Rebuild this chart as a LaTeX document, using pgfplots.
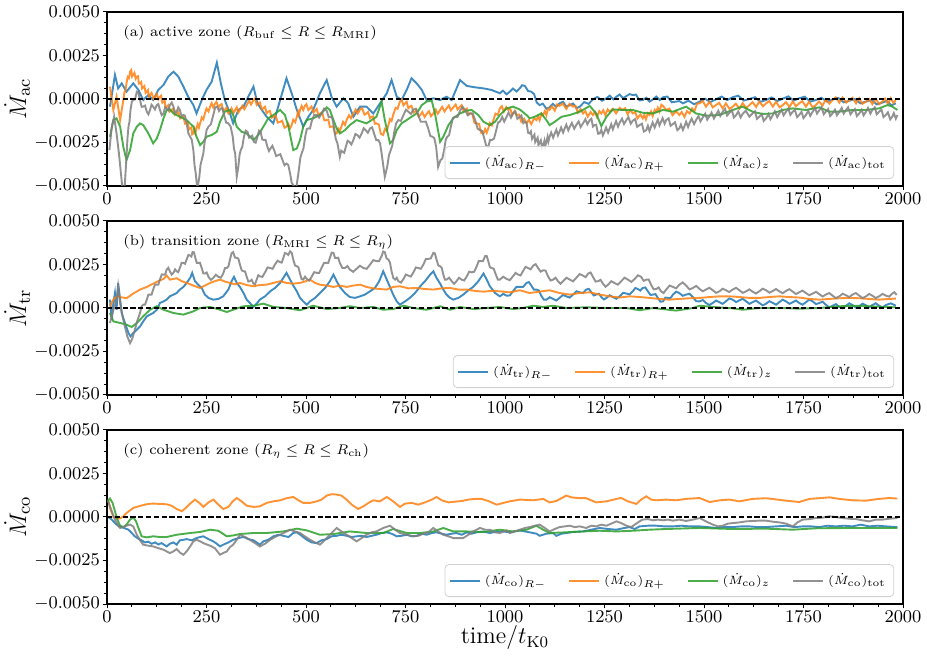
\documentclass[border=0pt]{standalone}
\usepackage{pgfplots}
\pgfplotsset{compat=1.18}
\definecolor{cA}{RGB}{31,119,180}
\definecolor{cB}{RGB}{255,127,14}
\definecolor{cC}{RGB}{44,160,44}
\definecolor{cD}{RGB}{127,127,127}
\pgfplotsset{panel/.style={
  width=398bp, height=87bp, scale only axis,
  xmin=0, xmax=2000, ymin=-0.005, ymax=0.005,
  xtick={0,250,500,750,1000,1250,1500,1750,2000},
  xticklabels={$0$,$250$,$500$,$750$,$1000$,$1250$,$1500$,$1750$,$2000$},
  ytick={-0.005,-0.0025,0,0.0025,0.005},
  yticklabels={$-0.0050$,$-0.0025$,$0.0000$,$0.0025$,$0.0050$},
  scaled y ticks=false, scaled x ticks=false,
  minor x tick num=3, minor y tick num=3,
  tick align=outside, tick pos=left,
  major tick length=2.2bp, minor tick length=1.3bp,
  every tick/.style={black, line width=0.5bp},
  tick label style={font=\fontsize{9.5}{11}\selectfont, inner sep=1.2bp},
  axis line style={line width=0.6bp},
  ylabel style={font=\fontsize{13}{15}\selectfont, at={(axis description cs:-0.113,0.5)}, anchor=center, rotate=0},
  xlabel style={font=\fontsize{12}{14}\selectfont, at={(axis description cs:0.5,-0.195)}, anchor=center},
  legend columns=4, legend cell align=left,
  legend image code/.code={\draw[##1] (0bp,0bp) -- (15bp,0bp);},
  legend style={at={(rel axis cs:0.989,0.04)}, anchor=south east,
    font=\fontsize{6}{7.5}\selectfont, draw=black!18, rounded corners=2bp,
    fill=white, fill opacity=0.8, text opacity=1, inner xsep=2bp, inner ysep=2.5bp,
    /tikz/every even column/.append style={column sep=9bp}},
  every axis plot/.append style={line width=0.95bp, draw opacity=0.85},
}}
\begin{document}
\begin{tikzpicture}
\path[use as bounding box] (-53.5bp,-27bp) rectangle (410bp,302bp);
% ---------------- panel (a)
\begin{axis}[panel, at={(0,209bp)}, ylabel={$\dot M_{\rm ac}$}]
\addplot[cA] coordinates {(7.5,-0.00044)(20,0.00138)(28,0.00061)(37,0.0009)(49,0.00042)(66,0.0009)(79,0.00052)(91,-0.00006)(104,0.00023)(116,-0.00006)(129,0.00052)(142,0.00081)(154,0.00129)(167,0.00157)(179,0.00129)(192,0.00071)(204,0.00013)(217,-0.00035)(225,-0.00083)(238,-0.00006)(250,0.00052)(263,0.001)(276,0.00209)(286,0.0009)(296,-0.00006)(309,-0.00083)(317,-0.0014)(330,-0.00063)(343,-0.00044)(355,0.00013)(368,0.00071)(378,-0.00025)(389,-0.00063)(401,-0.00102)(418,-0.0014)(435,-0.00006)(451,0.00119)(464,0.00033)(477,-0.00063)(493,-0.00159)(506,-0.00102)(518,-0.00063)(535,0.00033)(552,0.00109)(564,0.00013)(577,-0.00044)(594,0.00004)(606,-0.00025)(619,-0.00102)(636,-0.00044)(652,-0.00044)(669,-0.00083)(686,-0.00025)(703,0.00033)(715,0.00109)(728,0.00013)(740,-0.00006)(753,0.00052)(765,0.00119)(778,0.0009)(791,0.00052)(803,-0.00006)(820,0.00004)(837,-0.00006)(853,0.00013)(866,-0.00006)(887,0.00109)(904,0.00075)(925,0.00067)(946,0.00061)(966,0.00052)(987,0.00033)(995,0.00048)(1004,0.00027)(1012,0.00042)(1020,0.0006)(1029,0.00043)(1037,0.00061)(1043,0.00079)(1050,0.00075)(1058,0.00046)(1066,0.00042)(1073,0.00028)(1080,-0.00021)(1087,-0.00035)(1095,-0.00027)(1104,-0.00056)(1112,-0.00048)(1120,-0.00028)(1129,-0.00045)(1137,-0.00025)(1146,-0.00016)(1154,-0.00044)(1163,-0.00035)(1171,-0.00026)(1180,-0.00053)(1188,-0.00044)(1199,-0.00018)(1210,-0.00028)(1221,-0.00002)(1232,0.00012)(1244,-0.0001)(1255,0.00004)(1263,0.00019)(1272,-0.00002)(1280,0.00013)(1288,0.00026)(1297,0.00004)(1305,0.00017)(1313,0.00028)(1321,0.00023)(1329,0.00025)(1338,-0.00008)(1346,-0.00006)(1355,0.00007)(1363,-0.00015)(1372,-0.00002)(1380,0.00014)(1389,-0.00006)(1397,0.0001)(1408,0.00014)(1419,-0.00019)(1430,-0.00015)(1438,-0.00012)(1447,-0.00025)(1461,-0.0001)(1475,-0.0003)(1489,-0.00015)(1503,0.00001)(1516,-0.00018)(1530,-0.00002)(1544,0.00014)(1558,-0.00006)(1572,0.0001)(1586,0.00019)(1600,-0.00009)(1614,0)(1628,0.0001)(1642,-0.00016)(1656,-0.00006)(1670,0.00009)(1684,-0.00012)(1698,0.00002)(1712,0.00015)(1725,-0.00009)(1739,0.00004)(1753,0.00013)(1767,-0.00015)(1781,-0.00006)(1795,0.00007)(1809,-0.00015)(1823,-0.00002)(1837,0.00007)(1851,-0.00019)(1865,-0.0001)(1879,0)(1893,-0.00025)(1907,-0.00015)(1921,-0.00005)(1934,-0.00031)(1948,-0.00021)(1959,-0.00011)(1971,-0.00036)(1982,-0.00025)};
\addlegendentry{$(\dot M_{\rm ac})_{R-}$}
\addplot[cB] coordinates {(7.5,0.00071)(16,-0.00063)(24,0.00013)(33,-0.00121)(41,-0.00006)(44,0.00041)(46,0.00043)(49,0.0009)(52,0.00127)(55,0.0012)(58,0.00157)(61,0.00166)(63,0.00129)(66,0.00138)(69,0.0015)(72,0.00117)(75,0.00129)(78,0.00131)(80,0.00088)(83,0.0009)(86,0.00097)(88,0.0006)(91,0.00067)(94,0.00074)(97,0.00035)(100,0.00042)(103,0.00051)(105,0.00014)(108,0.00023)(112,0.00035)(117,0.00001)(121,0.00013)(125,0.00028)(129,-0.00002)(133,0.00013)(136,0.00019)(139,-0.00021)(142,-0.00015)(145,-0.0001)(147,-0.00049)(150,-0.00044)(154,-0.00035)(158,-0.00072)(162,-0.00063)(166,-0.00055)(171,-0.00091)(175,-0.00083)(179,-0.00074)(184,-0.00111)(188,-0.00102)(192,-0.001)(196,-0.00142)(200,-0.0014)(203,-0.00135)(206,-0.00174)(209,-0.00169)(212,-0.00164)(214,-0.00203)(217,-0.00198)(220,-0.00173)(222,-0.00194)(225,-0.00169)(228,-0.00144)(231,-0.00165)(234,-0.0014)(238,-0.00106)(242,-0.00117)(246,-0.00083)(250,-0.00055)(255,-0.00072)(259,-0.00044)(263,-0.00024)(267,-0.00049)(271,-0.00029)(275,-0.00016)(280,-0.00048)(284,-0.00035)(288,-0.00029)(292,-0.00069)(296,-0.00063)(300,-0.0005)(305,-0.00083)(309,-0.0007)(313,-0.00053)(318,-0.0008)(322,-0.00063)(326,-0.00048)(330,-0.00078)(334,-0.00063)(340,-0.00039)(345,-0.00059)(351,-0.00035)(357,-0.0001)(362,-0.00031)(368,-0.00006)(372,0.00003)(376,-0.00034)(380,-0.00025)(384,-0.0002)(389,-0.00059)(393,-0.00054)(397,-0.00045)(401,-0.00082)(405,-0.00073)(409,-0.00068)(414,-0.00107)(418,-0.00102)(424,-0.00097)(429,-0.00136)(435,-0.00131)(440,-0.00125)(446,-0.00165)(451,-0.00159)(455,-0.00141)(460,-0.00168)(464,-0.0015)(468,-0.00119)(473,-0.00133)(477,-0.00102)(480,-0.00074)(482,-0.00091)(485,-0.00063)(489,-0.0004)(493,-0.00063)(497,-0.0004)(501,-0.0003)(506,-0.00064)(510,-0.00054)(514,-0.00043)(519,-0.00078)(523,-0.00067)(527,-0.00057)(531,-0.00093)(535,-0.00083)(541,-0.00081)(546,-0.00123)(552,-0.00121)(556,-0.00119)(560,-0.00161)(564,-0.00159)(568,-0.00157)(573,-0.002)(577,-0.00198)(581,-0.0017)(585,-0.00187)(589,-0.00159)(593,-0.00131)(598,-0.00149)(602,-0.00121)(608,-0.00093)(613,-0.00111)(619,-0.00083)(625,-0.0006)(630,-0.00083)(636,-0.0006)(641,-0.00053)(647,-0.0009)(652,-0.00083)(656,-0.00074)(661,-0.00111)(665,-0.00102)(669,-0.001)(673,-0.00142)(677,-0.0014)(683,-0.00147)(688,-0.002)(694,-0.00207)(698,-0.00173)(703,-0.00184)(707,-0.0015)(711,-0.00116)(715,-0.00126)(719,-0.00092)(725,-0.00051)(730,-0.00056)(736,-0.00015)(740,-0.00003)(745,-0.00037)(749,-0.00025)(753,-0.00016)(757,-0.00053)(761,-0.00044)(765,-0.00039)(770,-0.00078)(774,-0.00073)(778,-0.00064)(783,-0.00101)(787,-0.00092)(792,-0.00075)(798,-0.00103)(803,-0.00086)(809,-0.0007)(814,-0.00099)(820,-0.00083)(826,-0.00061)(831,-0.00085)(837,-0.00063)(842,-0.00045)(848,-0.00072)(853,-0.00054)(859,-0.00037)(864,-0.00065)(870,-0.00048)(876,-0.00032)(881,-0.0006)(887,-0.00044)(891,-0.00035)(896,-0.00072)(900,-0.00063)(904,-0.00055)(908,-0.00091)(912,-0.00083)(918,-0.00087)(923,-0.00136)(929,-0.0014)(935,-0.00144)(940,-0.00194)(946,-0.00198)(950,-0.00173)(954,-0.00194)(958,-0.00169)(962,-0.00138)(967,-0.00152)(971,-0.00121)(976,-0.00084)(982,-0.00091)(987,-0.00054)(992,-0.00041)(997,-0.00073)(1003,-0.00046)(1008,-0.00063)(1013,-0.00055)(1018,-0.00093)(1024,-0.0007)(1029,-0.00092)(1035,-0.00089)(1041,-0.00131)(1048,-0.00113)(1054,-0.0014)(1060,-0.0012)(1066,-0.00145)(1073,-0.00111)(1079,-0.00121)(1083,-0.00099)(1087,-0.00122)(1092,-0.00084)(1096,-0.00092)(1100,-0.0007)(1104,-0.00093)(1108,-0.00055)(1112,-0.00063)(1118,-0.00042)(1125,-0.00067)(1131,-0.00031)(1137,-0.0004)(1145,-0.00026)(1154,-0.00057)(1162,-0.00028)(1171,-0.00044)(1177,-0.00039)(1183,-0.00079)(1190,-0.00058)(1196,-0.00083)(1202,-0.0007)(1208,-0.00102)(1215,-0.00075)(1221,-0.00092)(1226,-0.00075)(1231,-0.00103)(1237,-0.0007)(1242,-0.00083)(1247,-0.00065)(1252,-0.00093)(1258,-0.0006)(1263,-0.00073)(1271,-0.00056)(1279,-0.00083)(1288,-0.00051)(1296,-0.00063)(1302,-0.00053)(1308,-0.00088)(1315,-0.00063)(1321,-0.00083)(1327,-0.00075)(1333,-0.00112)(1340,-0.00089)(1346,-0.00111)(1350,-0.00091)(1354,-0.00117)(1359,-0.00082)(1363,-0.00092)(1367,-0.00072)(1371,-0.00098)(1376,-0.00063)(1380,-0.00073)(1384,-0.0005)(1388,-0.00072)(1393,-0.00033)(1397,-0.0004)(1401,-0.00052)(1405,-0.00063)(1413,-0.00055)(1421,-0.00093)(1430,-0.0007)(1438,-0.00092)(1444,-0.00075)(1451,-0.00103)(1457,-0.0007)(1464,-0.00083)(1470,-0.00054)(1476,-0.00069)(1483,-0.00025)(1489,-0.00025)(1497,-0.00012)(1505,-0.00044)(1514,-0.00016)(1522,-0.00048)(1530,-0.00035)(1538,-0.00022)(1547,-0.00054)(1555,-0.00025)(1564,-0.00057)(1572,-0.00044)(1580,-0.00027)(1589,-0.00055)(1597,-0.00024)(1606,-0.00052)(1614,-0.00035)(1622,-0.00018)(1631,-0.00046)(1639,-0.00014)(1648,-0.00042)(1656,-0.00025)(1664,-0.00012)(1673,-0.00044)(1681,-0.00016)(1690,-0.00048)(1698,-0.00035)(1706,-0.00018)(1715,-0.00046)(1723,-0.00014)(1731,-0.00042)(1739,-0.00025)(1747,-0.00012)(1756,-0.00044)(1764,-0.00016)(1773,-0.00048)(1781,-0.00035)(1789,-0.00014)(1798,-0.00038)(1806,-0.00002)(1815,-0.00027)(1823,-0.00006)(1831,0.00009)(1840,-0.00021)(1848,0.00009)(1857,-0.00021)(1865,-0.00006)(1873,0.00007)(1882,-0.00025)(1890,0.00004)(1898,-0.00028)(1907,-0.00015)(1915,0)(1923,-0.0003)(1932,0)(1940,-0.0003)(1948,-0.00015)(1955,0.00002)(1962,-0.00028)(1969,0.00005)(1976,-0.00023)(1982,-0.00006)};
\addlegendentry{$(\dot M_{\rm ac})_{R+}$}
\addplot[cC] coordinates {(7.5,-0.00217)(16,-0.00121)(24,-0.00111)(33,-0.00159)(41,-0.00275)(49,-0.00351)(58,-0.00294)(66,-0.00198)(75,-0.00159)(83,-0.0014)(91,-0.0015)(104,-0.00198)(116,-0.00255)(125,-0.00227)(133,-0.00179)(142,-0.00111)(150,-0.00063)(158,-0.0006)(167,-0.00083)(183,-0.00102)(200,-0.00121)(217,-0.00159)(225,-0.00217)(234,-0.00265)(242,-0.00246)(250,-0.00217)(263,-0.00207)(276,-0.00188)(284,-0.00131)(296,-0.00073)(309,-0.00063)(317,-0.00092)(326,-0.00159)(338,-0.00188)(351,-0.00198)(368,-0.00236)(380,-0.00207)(393,-0.00159)(405,-0.00111)(418,-0.00092)(435,-0.00063)(447,-0.00092)(456,-0.00159)(468,-0.00294)(477,-0.00284)(485,-0.00236)(493,-0.00159)(502,-0.00121)(518,-0.00111)(535,-0.00092)(552,-0.00048)(560,-0.00063)(569,-0.00121)(577,-0.00169)(585,-0.00198)(598,-0.00179)(610,-0.0015)(627,-0.00121)(640,-0.00131)(652,-0.0014)(665,-0.00121)(677,-0.00102)(690,-0.00015)(698,-0.00121)(711,-0.00255)(719,-0.00236)(728,-0.00179)(740,-0.0014)(753,-0.00121)(765,-0.00102)(778,-0.00083)(791,-0.00035)(803,-0.00015)(816,-0.0001)(824,-0.00083)(837,-0.00246)(845,-0.00217)(858,-0.0015)(870,-0.00111)(887,-0.00083)(904,-0.00067)(916,-0.00063)(933,-0.00092)(946,-0.00131)(962,-0.0015)(975,-0.00131)(987,-0.00092)(1004,-0.00054)(1020,-0.00044)(1037,-0.0006)(1054,-0.00092)(1062,-0.00111)(1075,-0.00102)(1091,-0.00083)(1104,-0.00121)(1112,-0.0015)(1125,-0.00131)(1142,-0.00102)(1163,-0.00092)(1188,-0.00073)(1213,-0.0004)(1229,-0.00083)(1242,-0.00156)(1255,-0.00102)(1271,-0.0006)(1296,-0.00063)(1321,-0.00063)(1346,-0.00079)(1372,-0.00083)(1397,-0.00063)(1422,-0.00073)(1455,-0.00044)(1480,-0.00083)(1505,-0.00096)(1539,-0.00092)(1572,-0.00063)(1597,-0.00044)(1622,-0.00073)(1647,-0.00086)(1673,-0.00083)(1698,-0.00063)(1723,-0.00054)(1756,-0.00063)(1790,-0.00048)(1815,-0.00073)(1840,-0.00073)(1873,-0.00063)(1907,-0.00063)(1940,-0.00054)(1961,-0.00035)(1973,-0.00044)(1986,-0.00063)};
\addlegendentry{$(\dot M_{\rm ac})_{z}$}
\addplot[cD] coordinates {(6,-0.00294)(12,-0.00159)(18,-0.00102)(24,-0.00198)(30,-0.00313)(35,-0.00428)(39,-0.0052)(44,-0.0052)(49,-0.00332)(51.5,-0.00225)(54,-0.00159)(56.5,-0.00131)(59,-0.00063)(62.5,-0.00015)(66,-0.00006)(70.5,-0.00002)(75,0.00042)(79,0.00038)(83,-0.00006)(87,-0.00045)(91,-0.00044)(95.5,-0.00038)(100,-0.00073)(104,-0.00088)(108,-0.00063)(112,-0.00033)(116,-0.00044)(120.5,-0.0006)(125,-0.00035)(129,-0.00029)(133,-0.00063)(137.5,-0.00093)(142,-0.00083)(146,-0.00048)(150,-0.00054)(154,-0.00065)(158,-0.00035)(162.5,-0.0002)(167,-0.00044)(171,-0.00078)(175,-0.00073)(179,-0.00048)(183,-0.00063)(187.5,-0.00098)(192,-0.00092)(196,-0.00096)(200,-0.0014)(204.5,-0.00198)(209,-0.00217)(213,-0.00235)(217,-0.00294)(220,-0.00381)(223,-0.00428)(227,-0.0052)(232,-0.00447)(235,-0.00379)(238,-0.00351)(242,-0.00313)(246,-0.00236)(250.5,-0.00177)(255,-0.00159)(261,-0.00145)(267,-0.00092)(272,-0.00048)(277,-0.00044)(281.5,-0.00069)(286,-0.00054)(290,-0.00053)(294,-0.00092)(299.5,-0.00136)(305,-0.0014)(310.5,-0.00158)(316,-0.00217)(319,-0.00285)(322,-0.00313)(326,-0.00447)(330,-0.0039)(333,-0.00322)(336,-0.00294)(340,-0.00275)(344,-0.00217)(348.5,-0.00182)(353,-0.00188)(357,-0.00222)(361,-0.00217)(365,-0.00211)(369,-0.00246)(373.5,-0.00251)(378,-0.00217)(382,-0.00182)(386,-0.00188)(390,-0.00232)(394,-0.00236)(398.5,-0.00235)(403,-0.00275)(407,-0.00299)(411,-0.00284)(415.5,-0.00269)(420,-0.00294)(425,-0.00328)(430,-0.00323)(435.5,-0.00317)(441,-0.00351)(446,-0.00381)(451,-0.00371)(455.5,-0.00379)(460,-0.00428)(464,-0.00481)(468,-0.00495)(475,-0.0052)(482,-0.00409)(485.5,-0.00341)(489,-0.00313)(493.5,-0.00285)(498,-0.00217)(502,-0.00173)(506,-0.00169)(510,-0.0017)(514,-0.00131)(520.5,-0.00091)(527,-0.00092)(533,-0.00107)(539,-0.00083)(545.5,-0.00055)(552,-0.00067)(557,-0.00104)(562,-0.00102)(566,-0.0011)(570,-0.00159)(574.5,-0.00227)(579,-0.00255)(585,-0.00332)(588.5,-0.00297)(592,-0.00303)(596,-0.00309)(600,-0.00275)(604.5,-0.0024)(609,-0.00246)(614,-0.00261)(619,-0.00236)(624,-0.00201)(629,-0.00207)(634.5,-0.00222)(640,-0.00198)(645,-0.00168)(650,-0.00179)(655.5,-0.00194)(661,-0.00169)(666,-0.00163)(671,-0.00198)(676.5,-0.00237)(682,-0.00236)(686,-0.00254)(690,-0.00313)(698,-0.00447)(704,-0.0039)(708.5,-0.00322)(713,-0.00294)(717,-0.00266)(721,-0.00198)(726.5,-0.0014)(732,-0.00121)(738.5,-0.00126)(745,-0.00092)(751,-0.00062)(757,-0.00073)(763.5,-0.00086)(770,-0.0006)(776,-0.00056)(782,-0.00092)(788.5,-0.00131)(795,-0.00131)(801,-0.0013)(807,-0.00169)(812.5,-0.00213)(818,-0.00217)(822.5,-0.00226)(827,-0.00275)(832,-0.0039)(838,-0.00351)(842.5,-0.00342)(847,-0.00294)(851,-0.00235)(855,-0.00217)(859.5,-0.00208)(864,-0.00159)(869,-0.0011)(874,-0.00102)(880.5,-0.00104)(887,-0.00067)(893.5,-0.00045)(900,-0.00063)(906,-0.00093)(912,-0.00083)(918.5,-0.00082)(925,-0.00121)(931,-0.0017)(937,-0.00179)(942.5,-0.00183)(948,-0.00227)(953,-0.00271)(958,-0.00275)(962.5,-0.00235)(967,-0.00236)(972.5,-0.00227)(978,-0.00179)(982.5,-0.00135)(987,-0.00131)(993,-0.00103)(998,-0.0013)(1004,-0.00102)(1009,-0.00078)(1015,-0.00107)(1020,-0.00083)(1026,-0.00071)(1031,-0.00114)(1037,-0.00102)(1041,-0.00094)(1046,-0.00139)(1050,-0.00131)(1054,-0.00135)(1058,-0.00194)(1062,-0.00198)(1065,-0.00186)(1068,-0.00229)(1071,-0.00217)(1074,-0.00205)(1076,-0.00248)(1079,-0.00236)(1082,-0.00223)(1084,-0.00265)(1087,-0.00252)(1090,-0.00238)(1093,-0.00279)(1096,-0.00265)(1099,-0.0024)(1101,-0.0027)(1104,-0.00246)(1107,-0.00217)(1109,-0.00245)(1112,-0.00217)(1116,-0.00193)(1121,-0.00222)(1125,-0.00198)(1129,-0.00177)(1133,-0.00209)(1137,-0.00188)(1141,-0.00164)(1146,-0.00193)(1150,-0.00169)(1154,-0.00148)(1159,-0.0018)(1163,-0.00159)(1168,-0.00138)(1174,-0.00171)(1179,-0.0015)(1185,-0.00129)(1190,-0.00161)(1196,-0.0014)(1202,-0.00116)(1207,-0.00145)(1213,-0.00121)(1217,-0.00113)(1221,-0.00158)(1225,-0.0015)(1229,-0.00148)(1234,-0.002)(1238,-0.00198)(1242,-0.00177)(1246,-0.00209)(1250,-0.00188)(1254,-0.00164)(1259,-0.00193)(1263,-0.00169)(1267,-0.00145)(1271,-0.00174)(1275,-0.0015)(1279,-0.00127)(1284,-0.00159)(1288,-0.00136)(1294,-0.00113)(1299,-0.00144)(1305,-0.00121)(1310,-0.00104)(1316,-0.00142)(1321,-0.00125)(1327,-0.00115)(1332,-0.0016)(1338,-0.0015)(1344,-0.00142)(1349,-0.00187)(1355,-0.00179)(1359,-0.00154)(1363,-0.00184)(1367,-0.00159)(1371,-0.00135)(1376,-0.00164)(1380,-0.0014)(1384,-0.00119)(1388,-0.00152)(1392,-0.00131)(1396,-0.0011)(1401,-0.00142)(1405,-0.00121)(1411,-0.00111)(1416,-0.00154)(1422,-0.00144)(1427,-0.00134)(1433,-0.00179)(1438,-0.00169)(1442,-0.00147)(1447,-0.00178)(1451,-0.00156)(1455,-0.00131)(1460,-0.00161)(1464,-0.00136)(1469,-0.00113)(1475,-0.00144)(1480,-0.00121)(1486,-0.00098)(1491,-0.00129)(1497,-0.00106)(1503,-0.00085)(1508,-0.00119)(1514,-0.00098)(1519,-0.00078)(1525,-0.00112)(1530,-0.00092)(1536,-0.00068)(1541,-0.00097)(1547,-0.00073)(1553,-0.00057)(1558,-0.00095)(1564,-0.00079)(1570,-0.00065)(1575,-0.00106)(1581,-0.00092)(1586,-0.00072)(1592,-0.00106)(1597,-0.00086)(1605,-0.00067)(1614,-0.00102)(1622,-0.00083)(1628,-0.00071)(1633,-0.00114)(1639,-0.00102)(1645,-0.00087)(1650,-0.00126)(1656,-0.00111)(1662,-0.00087)(1667,-0.00116)(1673,-0.00092)(1678,-0.00071)(1684,-0.00104)(1689,-0.00083)(1695,-0.00062)(1700,-0.00094)(1706,-0.00073)(1712,-0.00055)(1717,-0.00091)(1723,-0.00073)(1728,-0.00061)(1734,-0.00104)(1739,-0.00092)(1745,-0.00074)(1750,-0.0011)(1756,-0.00092)(1762,-0.00068)(1767,-0.00097)(1773,-0.00073)(1779,-0.00052)(1784,-0.00084)(1790,-0.00063)(1795,-0.00048)(1801,-0.00088)(1806,-0.00073)(1812,-0.00058)(1817,-0.00098)(1823,-0.00083)(1829,-0.00062)(1834,-0.00094)(1840,-0.00073)(1846,-0.00052)(1851,-0.00084)(1857,-0.00063)(1862,-0.00048)(1868,-0.00088)(1873,-0.00073)(1879,-0.00058)(1884,-0.00098)(1890,-0.00083)(1896,-0.00062)(1901,-0.00094)(1907,-0.00073)(1912,-0.00052)(1918,-0.00084)(1923,-0.00063)(1929,-0.00048)(1934,-0.00088)(1940,-0.00073)(1946,-0.00061)(1951,-0.00104)(1957,-0.00092)(1962,-0.00077)(1968,-0.00117)(1973,-0.00102)(1977,-0.00081)(1982,-0.00113)(1986,-0.00092)};
\addlegendentry{$(\dot M_{\rm ac})_{\rm tot}$}
\addplot[black, line width=0.6bp, draw opacity=1, dash pattern=on 2.6bp off 1.3bp, forget plot] coordinates {(0,0)(2000,0)};
\node[anchor=west, inner sep=0pt, font=\fontsize{7.3}{9}\selectfont] at (axis description cs:0.02,0.878) {(a) active zone ($R_{\rm buf}\le R\le R_{\rm MRI}$)};
\end{axis}
% ---------------- panel (b)
\begin{axis}[panel, at={(0,104.5bp)}, ylabel={$\dot M_{\rm tr}$}]
\addplot[cA] coordinates {(7.5,0.00048)(12,-0.00067)(16,0.00029)(20,0.00086)(24,-0.0001)(28,0.00144)(33,0.00048)(37,-0.00029)(45,-0.00086)(54,-0.00144)(59,-0.00163)(66,-0.00144)(75,-0.00125)(83,-0.00106)(91,-0.00077)(100,-0.00048)(108,-0.00038)(116,-0.00029)(125,-0.0001)(133,0.00029)(142,0.00038)(150,0.00048)(158,0.00067)(167,0.00077)(175,0.00086)(183,0.00106)(192,0.00121)(200,0.00144)(209,0.00173)(214,0.00202)(221,0.00154)(229,0.00134)(238,0.00115)(246,0.00077)(255,0.00058)(267,0.00048)(280,0.00052)(292,0.00067)(305,0.00106)(313,0.00154)(319,0.00179)(326,0.00144)(334,0.00121)(343,0.00086)(351,0.00048)(359,0.00029)(368,0.00006)(376,0.00025)(384,0.00048)(397,0.00067)(410,0.00096)(422,0.00115)(435,0.00144)(443,0.00173)(451,0.00202)(460,0.00163)(468,0.00129)(477,0.00096)(485,0.00058)(493,0.00038)(502,0.00019)(510,0.00038)(523,0.00058)(535,0.00086)(548,0.00115)(560,0.00154)(569,0.00192)(577,0.00154)(585,0.00121)(598,0.00086)(610,0.00063)(623,0.00058)(636,0.00067)(648,0.00077)(661,0.00096)(673,0.00115)(684,0.00154)(694,0.00211)(703,0.00163)(711,0.00121)(719,0.00077)(728,0.00038)(736,0.00019)(749,0.00038)(761,0.00058)(774,0.00086)(787,0.00125)(799,0.00154)(812,0.00192)(820,0.00211)(828,0.00173)(837,0.0014)(845,0.00106)(853,0.00077)(862,0.00058)(870,0.00048)(883,0.00058)(895,0.00077)(908,0.00102)(920,0.00121)(933,0.00154)(946,0.00198)(954,0.00163)(962,0.00125)(975,0.00086)(987,0.00067)(995.5,0.00081)(1004,0.00071)(1012,0.00072)(1020,0.00096)(1028.5,0.00121)(1037,0.00121)(1045.5,0.00121)(1054,0.00144)(1060,0.00149)(1066,0.00129)(1072.5,0.00106)(1079,0.00106)(1085,0.00101)(1091,0.00071)(1097.5,0.00048)(1104,0.00048)(1112.5,0.00062)(1121,0.00052)(1129,0.00043)(1137,0.00058)(1145.5,0.00075)(1154,0.00067)(1162.5,0.0006)(1171,0.00077)(1179.5,0.00096)(1188,0.0009)(1196,0.00086)(1204,0.00106)(1210.5,0.0011)(1217,0.0009)(1223,0.00072)(1229,0.00077)(1235.5,0.00082)(1242,0.00063)(1248.5,0.00049)(1255,0.00058)(1263,0.00073)(1271,0.00063)(1279.5,0.00053)(1288,0.00067)(1296.5,0.00087)(1305,0.00083)(1313,0.00078)(1321,0.00096)(1327.5,0.00115)(1334,0.00109)(1340,0.001)(1346,0.00115)(1352.5,0.00118)(1359,0.00096)(1365.5,0.00075)(1372,0.00077)(1378,0.0008)(1384,0.00058)(1390.5,0.00036)(1397,0.00038)(1403,0.0006)(1409,0.00058)(1415.5,0.00056)(1422,0.00077)(1430,0.00094)(1438,0.00086)(1446.5,0.0007)(1455,0.00077)(1463.5,0.00082)(1472,0.00063)(1480.5,0.00039)(1489,0.00038)(1497,0.00046)(1505,0.00029)(1513.5,0.00017)(1522,0.00029)(1530.5,0.00043)(1539,0.00033)(1547,0.00024)(1555,0.00038)(1563.5,0.00055)(1572,0.00048)(1580.5,0.00034)(1589,0.00044)(1597.5,0.00053)(1606,0.00038)(1614,0.00024)(1622,0.00033)(1630.5,0.00043)(1639,0.00029)(1647.5,0.00015)(1656,0.00025)(1664.5,0.00039)(1673,0.00029)(1681,0.00019)(1689,0.00033)(1697.5,0.00048)(1706,0.00038)(1714.5,0.00024)(1723,0.00033)(1731,0.00043)(1739,0.00029)(1747.5,0.00019)(1756,0.00033)(1764.5,0.00048)(1773,0.00038)(1781.5,0.00022)(1790,0.00029)(1798,0.00036)(1806,0.00019)(1814.5,0.00004)(1823,0.00013)(1831.5,0.00022)(1840,0.00006)(1848.5,-0.00002)(1857,0.00013)(1865,0.00027)(1873,0.00017)(1881.5,0.00002)(1890,0.0001)(1898.5,0.00025)(1907,0.00015)(1915,0.00004)(1923,0.00017)(1931.5,0.00027)(1940,0.00013)(1948.5,0.00003)(1957,0.00017)(1969.5,0.00027)(1982,0.00013)};
\addlegendentry{$(\dot M_{\rm tr})_{R-}$}
\addplot[cB] coordinates {(7.5,0.0001)(16,0.00048)(24,0.00067)(33,0.00063)(49,0.00056)(66,0.00083)(83,0.00106)(100,0.00121)(116,0.0014)(133,0.00159)(142,0.00167)(150,0.00186)(158,0.00163)(167,0.00167)(175,0.00171)(188,0.00154)(200,0.00144)(217,0.00129)(234,0.00115)(246,0.00129)(259,0.00144)(271,0.00154)(284,0.00163)(296,0.00152)(309,0.00144)(322,0.00136)(334,0.00144)(351,0.00132)(368,0.00125)(384,0.00132)(401,0.00134)(418,0.00144)(435,0.00154)(451,0.00144)(468,0.0014)(485,0.00144)(497,0.00152)(510,0.00163)(523,0.00144)(535,0.00134)(552,0.00129)(569,0.00121)(585,0.00129)(602,0.00121)(619,0.00129)(636,0.00134)(652,0.00121)(669,0.00113)(686,0.00109)(703,0.00106)(719,0.00121)(736,0.00125)(757,0.00113)(778,0.00115)(799,0.00109)(820,0.00106)(841,0.00113)(862,0.00115)(883,0.00106)(904,0.00106)(925,0.00098)(946,0.00094)(966,0.00098)(987,0.00096)(1012,0.0009)(1037,0.00102)(1062,0.00086)(1087,0.00094)(1112,0.00102)(1137,0.00086)(1163,0.00077)(1188,0.00086)(1213,0.0009)(1238,0.00077)(1263,0.00067)(1288,0.0006)(1313,0.00067)(1338,0.00063)(1363,0.00058)(1388,0.00052)(1413,0.00048)(1438,0.00052)(1464,0.00056)(1489,0.00058)(1514,0.00063)(1539,0.00067)(1564,0.00067)(1589,0.00063)(1614,0.00058)(1639,0.00058)(1664,0.00063)(1689,0.00067)(1714,0.00063)(1739,0.0006)(1765,0.00052)(1790,0.00048)(1815,0.00052)(1840,0.00056)(1865,0.00058)(1890,0.00056)(1915,0.00052)(1940,0.00048)(1965,0.00052)(1982,0.00054)};
\addlegendentry{$(\dot M_{\rm tr})_{R+}$}
\addplot[cC] coordinates {(7.5,-0.00029)(16,-0.00077)(33,-0.00086)(49,-0.00096)(62,-0.00109)(75,-0.00086)(91,-0.00048)(108,-0.0001)(125,0.0001)(142,-0.0001)(167,-0.00029)(192,-0.00038)(217,-0.00019)(234,0)(259,0.00006)(284,-0.0001)(301,-0.00023)(317,-0.0001)(343,0.0001)(368,0.00013)(393,0.00025)(418,0.00006)(451,0)(485,-0.00013)(518,0.00013)(552,-0.00006)(585,0)(610,0.0001)(636,0)(669,0.00006)(694,-0.0001)(719,-0.00006)(745,0.00013)(770,0)(803,-0.0001)(837,0.0001)(862,-0.0001)(887,0.00006)(920,-0.00006)(954,0)(987,0.00006)(1020,-0.00006)(1045,0)(1071,0.00013)(1096,0.00006)(1121,0.00013)(1154,0)(1204,0.00004)(1255,0)(1305,0)(1338,-0.00013)(1372,0)(1430,-0.00015)(1472,0)(1489,0.00013)(1522,0.00006)(1572,-0.00002)(1597,-0.0001)(1639,0)(1698,0)(1739,-0.00004)(1790,0)(1840,0.0001)(1890,0.00013)(1948,0.00006)(1982,0.00004)};
\addlegendentry{$(\dot M_{\rm tr})_{z}$}
\addplot[cD] coordinates {(7.5,-0.00086)(16,-0.0001)(24,0.00048)(28,0.00125)(33,0.00029)(39,-0.00048)(45,-0.00106)(51,-0.00163)(58,-0.00202)(64,-0.00173)(70,-0.00125)(77,-0.00067)(83,-0.00029)(87,0.0001)(91,0.00019)(95.5,0.00019)(100,0.00048)(104,0.00077)(108,0.00077)(112,0.00077)(116,0.00106)(120.5,0.00135)(125,0.00134)(129,0.00134)(133,0.00163)(137.5,0.00193)(142,0.00192)(146,0.00192)(150,0.00221)(154,0.00231)(158,0.00211)(162.5,0.00192)(167,0.00202)(171,0.00222)(175,0.00211)(179,0.00206)(183,0.0023)(187.5,0.0026)(192,0.00259)(196,0.00254)(200,0.00278)(204.5,0.00305)(209,0.00301)(212,0.00296)(215,0.00321)(218.5,0.0032)(222,0.00288)(225.5,0.00259)(229,0.00259)(233.5,0.0026)(238,0.0023)(242,0.00199)(246,0.00198)(250.5,0.00204)(255,0.00179)(261,0.00161)(267,0.00173)(273.5,0.00191)(280,0.00179)(286,0.00174)(292,0.00198)(296.5,0.00229)(301,0.0023)(305,0.00239)(309,0.00278)(313,0.00315)(317,0.00321)(321.5,0.0029)(326,0.00288)(330,0.00284)(334,0.0025)(338.5,0.00216)(343,0.00211)(347,0.0021)(351,0.00179)(355,0.00152)(359,0.00154)(363.5,0.00162)(368,0.0014)(372,0.00137)(376,0.00163)(380,0.00188)(384,0.00182)(390.5,0.00179)(397,0.00205)(403.5,0.00233)(410,0.0023)(416,0.00225)(422,0.0025)(428.5,0.00272)(435,0.00263)(439,0.00261)(443,0.00288)(447,0.00316)(451,0.00313)(455.5,0.00305)(460,0.00326)(464,0.00317)(468,0.00278)(472.5,0.00244)(477,0.0024)(481,0.00234)(485,0.00198)(489,0.00166)(493,0.00163)(497.5,0.0018)(502,0.00167)(508,0.00158)(514,0.00179)(520.5,0.00206)(527,0.00202)(533,0.00201)(539,0.0023)(545.5,0.0026)(552,0.00259)(556,0.00259)(560,0.00288)(564.5,0.00318)(569,0.00317)(573,0.00288)(577,0.00288)(581,0.00289)(585,0.00259)(591.5,0.0023)(598,0.0023)(604,0.00241)(610,0.00221)(618.5,0.00208)(627,0.00225)(635.5,0.00243)(644,0.0023)(652.5,0.00225)(661,0.0025)(669,0.00275)(677,0.00269)(683.5,0.00269)(690,0.00298)(694,0.00325)(698,0.00321)(702.5,0.00285)(707,0.00278)(711,0.0026)(715,0.00211)(719.5,0.00172)(724,0.00163)(728,0.00174)(732,0.00154)(738.5,0.00146)(745,0.00167)(751,0.00192)(757,0.00186)(763.5,0.00181)(770,0.00205)(776,0.00233)(782,0.0023)(788.5,0.00225)(795,0.0025)(801,0.00281)(807,0.00282)(813.5,0.00285)(820,0.00317)(824,0.00313)(828,0.00278)(832.5,0.00244)(837,0.0024)(841,0.00231)(845,0.00192)(849,0.00163)(853,0.00163)(859.5,0.00174)(866,0.00154)(872,0.00139)(878,0.00154)(884.5,0.00174)(891,0.00163)(897.5,0.00158)(904,0.00182)(910,0.00209)(916,0.00205)(922.5,0.00208)(929,0.0024)(934,0.0027)(939,0.00269)(944.5,0.00269)(950,0.00298)(954,0.00299)(958,0.00269)(962,0.00235)(966,0.0023)(971.5,0.00226)(977,0.00192)(982,0.00163)(987,0.00163)(995.5,0.0018)(1004,0.00167)(1012,0.0016)(1020,0.00182)(1026.5,0.00202)(1033,0.00192)(1039,0.00187)(1045,0.00211)(1051.5,0.00236)(1058,0.0023)(1064.5,0.00222)(1071,0.00244)(1077,0.00252)(1083,0.0023)(1089.5,0.00209)(1096,0.00217)(1102,0.00215)(1108,0.00182)(1114.5,0.00158)(1121,0.00163)(1127,0.00174)(1133,0.00154)(1139.5,0.00139)(1146,0.00154)(1154.5,0.00174)(1163,0.00163)(1171,0.00153)(1179,0.00173)(1187.5,0.00195)(1196,0.00186)(1202.5,0.00177)(1209,0.00198)(1215,0.00204)(1221,0.00179)(1227.5,0.00152)(1234,0.00154)(1240,0.00162)(1246,0.0014)(1252.5,0.00122)(1259,0.00134)(1267,0.00154)(1275,0.00144)(1283.5,0.00134)(1292,0.00154)(1300.5,0.00174)(1309,0.00163)(1317.5,0.0015)(1326,0.00167)(1334,0.00188)(1342,0.00179)(1348.5,0.00156)(1355,0.00163)(1361,0.00164)(1367,0.00134)(1373.5,0.00107)(1380,0.00109)(1386,0.00118)(1392,0.00096)(1398.5,0.00086)(1405,0.00106)(1413.5,0.00129)(1422,0.00121)(1430,0.00113)(1438,0.00134)(1446.5,0.00147)(1455,0.00129)(1463.5,0.00107)(1472,0.00115)(1480.5,0.00127)(1489,0.00109)(1497,0.00096)(1505,0.00106)(1513.5,0.00116)(1522,0.00102)(1530.5,0.00087)(1539,0.00096)(1547,0.00111)(1555,0.00102)(1563.5,0.00092)(1572,0.00106)(1580.5,0.00116)(1589,0.00102)(1597.5,0.00087)(1606,0.00096)(1614,0.00107)(1622,0.00094)(1630.5,0.00083)(1639,0.00096)(1647.5,0.00111)(1656,0.00102)(1664.5,0.00088)(1673,0.00098)(1681,0.00109)(1689,0.00096)(1697.5,0.00085)(1706,0.00098)(1714.5,0.00108)(1723,0.00094)(1731,0.0008)(1739,0.0009)(1747.5,0.001)(1756,0.00086)(1764.5,0.00073)(1773,0.00083)(1781.5,0.00093)(1790,0.00079)(1798,0.00066)(1806,0.00077)(1814.5,0.00086)(1823,0.00071)(1831.5,0.00057)(1840,0.00067)(1848.5,0.00082)(1857,0.00073)(1865,0.00063)(1873,0.00077)(1881.5,0.00086)(1890,0.00071)(1898.5,0.00057)(1907,0.00067)(1915,0.00081)(1923,0.00071)(1931.5,0.00057)(1940,0.00067)(1948.5,0.00081)(1957,0.00071)(1965,0.00065)(1973,0.00083)(1978.5,0.00091)(1984,0.00075)};
\addlegendentry{$(\dot M_{\rm tr})_{\rm tot}$}
\addplot[black, line width=0.6bp, draw opacity=1, dash pattern=on 2.6bp off 1.3bp, forget plot] coordinates {(0,0)(2000,0)};
\node[anchor=west, inner sep=0pt, font=\fontsize{7.3}{9}\selectfont] at (axis description cs:0.02,0.878) {(b) transition zone ($R_{\rm MRI}\le R\le R_\eta$)};
\end{axis}
% ---------------- panel (c)
\begin{axis}[panel, at={(0,0)}, ylabel={$\dot M_{\rm co}$}, xlabel={time$/t_{\rm K0}$}]
\addplot[cA] coordinates {(3,0)(12,-0.00015)(20,-0.00035)(28,-0.0005)(37,-0.00058)(45,-0.00065)(54,-0.00073)(62,-0.00092)(70,-0.00111)(79,-0.00125)(87,-0.00134)(95,-0.00146)(104,-0.00142)(112,-0.00154)(121,-0.00146)(129,-0.00158)(137,-0.0015)(150,-0.00169)(158,-0.00154)(167,-0.00146)(175,-0.00159)(183,-0.00134)(192,-0.00131)(200,-0.00127)(213,-0.00134)(225,-0.00121)(234,-0.00115)(242,-0.00111)(255,-0.00127)(267,-0.0014)(276,-0.00154)(284,-0.00169)(292,-0.00159)(305,-0.00146)(317,-0.00131)(330,-0.00121)(343,-0.00115)(355,-0.00127)(368,-0.00134)(376,-0.00146)(384,-0.00159)(393,-0.0014)(405,-0.00131)(418,-0.00111)(431,-0.00102)(443,-0.00108)(456,-0.00115)(468,-0.00092)(477,-0.00088)(489,-0.00108)(502,-0.00131)(514,-0.00146)(527,-0.0015)(539,-0.00134)(552,-0.00127)(564,-0.00111)(577,-0.00108)(589,-0.00102)(602,-0.00108)(615,-0.00115)(627,-0.00111)(640,-0.00108)(652,-0.00115)(665,-0.00108)(677,-0.00102)(690,-0.00092)(703,-0.00088)(715,-0.00096)(728,-0.00111)(740,-0.00108)(753,-0.00102)(766,-0.00111)(778,-0.00108)(791,-0.00096)(803,-0.00102)(816,-0.00092)(828,-0.00088)(841,-0.00096)(853,-0.00102)(866,-0.00096)(878,-0.00092)(891,-0.00102)(904,-0.00088)(916,-0.00096)(929,-0.00088)(946,-0.00084)(962,-0.00092)(979,-0.00084)(996,-0.00083)(1012,-0.00088)(1037,-0.00077)(1062,-0.00088)(1079,-0.00096)(1087,-0.00108)(1104,-0.00096)(1121,-0.00092)(1129,-0.00108)(1142,-0.00096)(1154,-0.00092)(1171,-0.00086)(1196,-0.00083)(1217,-0.00073)(1238,-0.00063)(1259,-0.00069)(1280,-0.00073)(1296,-0.00065)(1313,-0.00058)(1326,-0.00069)(1338,-0.00054)(1359,-0.0005)(1380,-0.0005)(1401,-0.00054)(1422,-0.00054)(1443,-0.0005)(1464,-0.00054)(1489,-0.00054)(1509,-0.00058)(1530,-0.00063)(1551,-0.00058)(1572,-0.00058)(1593,-0.00054)(1614,-0.00054)(1635,-0.00058)(1656,-0.00058)(1681,-0.00054)(1706,-0.0005)(1727,-0.00058)(1748,-0.00054)(1769,-0.00054)(1790,-0.00058)(1810,-0.0005)(1831,-0.00054)(1852,-0.0005)(1873,-0.00054)(1894,-0.00044)(1915,-0.00054)(1936,-0.0005)(1957,-0.00054)(1986,-0.00058)};
\addlegendentry{$(\dot M_{\rm co})_{R-}$}
\addplot[cB] coordinates {(3,0.001)(7.5,0.00052)(16,0)(24,-0.0001)(33,-0.00008)(41,0.00004)(49,0.00023)(58,0.00038)(66,0.00052)(79,0.00061)(91,0.00069)(104,0.00075)(116,0.00077)(133,0.00075)(150,0.00073)(162,0.00065)(175,0.00046)(188,0.00033)(198,0.00052)(209,0.00077)(221,0.001)(232,0.00081)(242,0.00058)(255,0.00084)(267,0.001)(280,0.00071)(292,0.00046)(305,0.00058)(316,0.0009)(326,0.00109)(338,0.0009)(351,0.00065)(368,0.00058)(384,0.00061)(401,0.00081)(418,0.0009)(435,0.00096)(451,0.00108)(468,0.00115)(481,0.00096)(493,0.00081)(510,0.00081)(527,0.0009)(539,0.001)(552,0.00123)(564,0.00131)(577,0.00129)(589,0.00123)(602,0.001)(615,0.00071)(631,0.00046)(644,0.00061)(657,0.00081)(669,0.00096)(686,0.0009)(703,0.00115)(719,0.0009)(736,0.00058)(749,0.00077)(766,0.00081)(782,0.00071)(799,0.00084)(816,0.001)(828,0.00115)(841,0.00096)(858,0.00084)(874,0.00088)(891,0.00092)(908,0.001)(925,0.00104)(941,0.00104)(958,0.00092)(979,0.00071)(996,0.00081)(1012,0.0009)(1037,0.001)(1071,0.00096)(1096,0.00104)(1112,0.00084)(1129,0.00092)(1142,0.00108)(1154,0.00123)(1167,0.00113)(1183,0.00109)(1204,0.00108)(1229,0.00084)(1255,0.0009)(1280,0.00104)(1292,0.00109)(1309,0.0009)(1330,0.00075)(1342,0.001)(1355,0.00119)(1367,0.001)(1380,0.00096)(1405,0.001)(1430,0.00096)(1455,0.00104)(1489,0.00109)(1514,0.00086)(1539,0.00096)(1564,0.001)(1589,0.0009)(1622,0.00104)(1656,0.00108)(1698,0.00096)(1739,0.00086)(1765,0.00104)(1790,0.00108)(1815,0.00113)(1840,0.00104)(1873,0.00096)(1907,0.00094)(1940,0.00104)(1965,0.00109)(1986,0.00106)};
\addlegendentry{$(\dot M_{\rm co})_{R+}$}
\addplot[cC] coordinates {(1,0.0009)(7.5,0.00106)(14,0.00081)(20,0.00033)(26,-0.00015)(33,-0.0005)(41,-0.00058)(49,-0.00044)(58,-0.00015)(66,-0.00002)(73,-0.00025)(79,-0.00063)(87,-0.00111)(100,-0.00117)(116,-0.00111)(133,-0.00115)(150,-0.00115)(175,-0.00102)(209,-0.00092)(234,-0.00086)(259,-0.00073)(280,-0.00079)(301,-0.00111)(317,-0.00106)(334,-0.00098)(368,-0.00092)(401,-0.00092)(443,-0.00083)(477,-0.00067)(502,-0.00077)(535,-0.00102)(569,-0.00098)(610,-0.00083)(652,-0.00092)(694,-0.00092)(719,-0.00069)(753,-0.00092)(787,-0.00092)(820,-0.00083)(845,-0.00063)(870,-0.00083)(904,-0.00083)(946,-0.00086)(987,-0.00073)(1020,-0.00083)(1054,-0.00073)(1079,-0.0005)(1096,-0.00073)(1112,-0.00092)(1154,-0.00088)(1196,-0.00083)(1238,-0.00079)(1280,-0.00083)(1321,-0.00079)(1363,-0.00073)(1405,-0.00069)(1489,-0.00063)(1572,-0.00069)(1656,-0.00067)(1723,-0.00073)(1781,-0.00065)(1865,-0.00063)(1923,-0.00063)(1986,-0.00063)};
\addlegendentry{$(\dot M_{\rm co})_{z}$}
\addplot[cD] coordinates {(3,0.0009)(12,0.00033)(20,-0.00015)(28,-0.0005)(33,-0.00063)(41,-0.00058)(49,-0.0005)(58,-0.00044)(66,-0.00054)(75,-0.00102)(83,-0.00134)(91,-0.00159)(104,-0.00165)(116,-0.00169)(129,-0.00179)(142,-0.00188)(150,-0.00198)(158,-0.00207)(167,-0.00198)(175,-0.00184)(183,-0.00204)(192,-0.00217)(200,-0.00198)(209,-0.00169)(217,-0.0014)(225,-0.00131)(234,-0.0014)(246,-0.00154)(259,-0.00165)(271,-0.00179)(284,-0.00217)(292,-0.00207)(301,-0.00198)(309,-0.00173)(317,-0.00159)(326,-0.00131)(334,-0.00102)(347,-0.00115)(359,-0.00131)(372,-0.0015)(384,-0.00169)(397,-0.00154)(410,-0.00131)(422,-0.00115)(435,-0.00102)(447,-0.00088)(460,-0.00073)(472,-0.00083)(485,-0.00092)(497,-0.00111)(510,-0.00131)(523,-0.00146)(535,-0.00159)(548,-0.00131)(560,-0.00102)(577,-0.00063)(589,-0.00083)(602,-0.00102)(615,-0.00121)(627,-0.0014)(640,-0.00121)(652,-0.00102)(665,-0.00088)(677,-0.00083)(694,-0.00063)(711,-0.0005)(724,-0.00073)(736,-0.00092)(753,-0.00102)(770,-0.00111)(782,-0.00108)(795,-0.00096)(807,-0.00088)(820,-0.00063)(832,-0.00083)(845,-0.00102)(858,-0.00111)(870,-0.00121)(883,-0.00121)(895,-0.00121)(908,-0.00102)(920,-0.00083)(937,-0.00063)(950,-0.00073)(962,-0.00073)(975,-0.00088)(987,-0.00092)(1004,-0.00077)(1012,-0.00092)(1025,-0.00083)(1037,-0.00073)(1050,-0.00063)(1062,-0.00058)(1075,-0.0005)(1087,-0.00044)(1100,-0.00063)(1112,-0.00083)(1125,-0.00069)(1137,-0.00058)(1150,-0.00054)(1163,-0.0005)(1175,-0.00058)(1188,-0.00054)(1204,-0.00063)(1217,-0.0005)(1229,-0.00054)(1242,-0.00044)(1255,-0.0005)(1267,-0.00038)(1280,-0.00025)(1292,-0.00035)(1305,-0.0005)(1317,-0.00058)(1330,-0.00038)(1338,-0.00025)(1346,-0.00015)(1359,-0.00012)(1372,-0.00019)(1384,-0.00015)(1397,-0.00019)(1409,-0.00015)(1422,-0.00021)(1438,-0.00015)(1455,-0.00023)(1472,-0.00015)(1489,-0.00006)(1505,-0.00025)(1522,-0.00044)(1535,-0.00054)(1547,-0.0005)(1560,-0.00038)(1572,-0.00035)(1589,-0.00031)(1606,-0.00025)(1622,-0.00023)(1639,-0.00021)(1656,-0.00021)(1673,-0.00027)(1689,-0.00031)(1706,-0.00038)(1723,-0.00054)(1735,-0.00031)(1748,-0.00015)(1765,-0.00012)(1781,-0.00006)(1798,-0.00004)(1815,0.00004)(1831,0)(1848,-0.00006)(1865,-0.0001)(1882,-0.00012)(1898,-0.00019)(1915,-0.00025)(1932,-0.00015)(1948,-0.00015)(1965,-0.0001)(1986,-0.00006)};
\addlegendentry{$(\dot M_{\rm co})_{\rm tot}$}
\addplot[black, line width=0.6bp, draw opacity=1, dash pattern=on 2.6bp off 1.3bp, forget plot] coordinates {(0,0)(2000,0)};
\node[anchor=west, inner sep=0pt, font=\fontsize{7.3}{9}\selectfont] at (axis description cs:0.02,0.878) {(c) coherent zone ($R_\eta\le R\le R_{\rm ch}$)};
\end{axis}
\end{tikzpicture}
\end{document}
